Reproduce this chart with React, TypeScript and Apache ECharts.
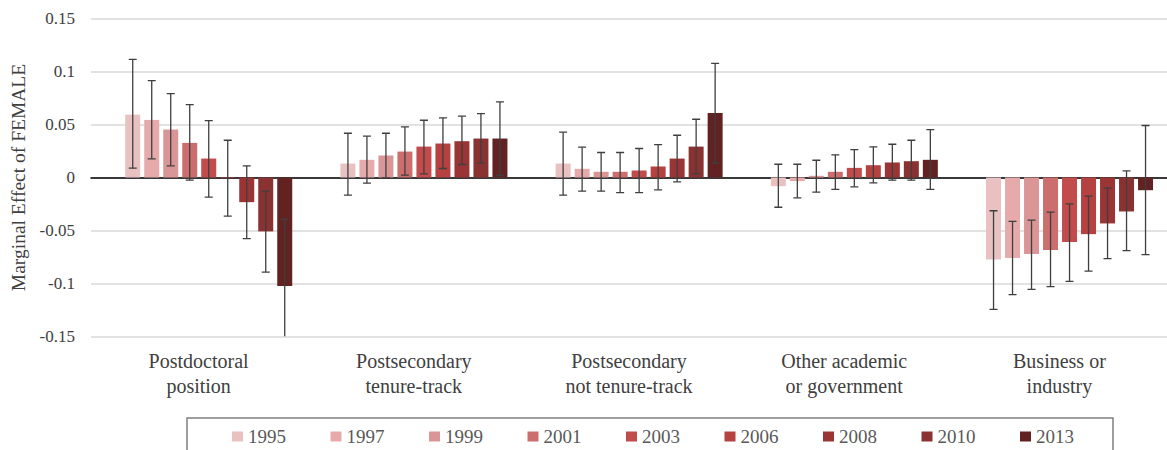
import React, { useEffect, useRef } from "react";
import * as echarts from "echarts";

const categories = [
  "Postdoctoral\nposition",
  "Postsecondary\ntenure-track",
  "Postsecondary\nnot tenure-track",
  "Other academic\nor government",
  "Business or\nindustry",
];

const years = ["1995", "1997", "1999", "2001", "2003", "2006", "2008", "2010", "2013"];

const colors = ["#e9c1c1", "#e6aaaa", "#da9696", "#cd6e6e", "#c24b4b", "#b54141", "#9b3434", "#8a3232", "#632222"];

// rows: years, columns: categories
const barValues = [
  [0.0594, 0.0132, 0.0132, -0.0082, -0.0774],
  [0.0544, 0.0167, 0.0082, -0.0034, -0.0761],
  [0.0453, 0.0208, 0.0054, 0.0016, -0.0723],
  [0.0327, 0.0245, 0.0054, 0.0054, -0.0686],
  [0.0179, 0.0292, 0.0066, 0.0091, -0.061],
  [-0.0006, 0.0321, 0.0104, 0.0116, -0.0535],
  [-0.0233, 0.0343, 0.0179, 0.0142, -0.0434],
  [-0.0509, 0.0368, 0.0292, 0.0154, -0.0321],
  [-0.1025, 0.0368, 0.061, 0.0167, -0.012],
];

const ciHigh = [
  [0.1116, 0.0418, 0.0428, 0.0125, -0.0314],
  [0.0915, 0.039, 0.0286, 0.0125, -0.0415],
  [0.0792, 0.0418, 0.0236, 0.0163, -0.0403],
  [0.0689, 0.0478, 0.0236, 0.0214, -0.0327],
  [0.0538, 0.0541, 0.0274, 0.0264, -0.025],
  [0.0352, 0.0563, 0.0311, 0.029, -0.0176],
  [0.011, 0.0579, 0.0399, 0.0314, -0.01],
  [-0.0129, 0.0604, 0.055, 0.0352, 0.0063],
  [-0.0396, 0.0714, 0.1078, 0.0453, 0.0491],
];

const ciLow = [
  [0.0088, -0.0167, -0.0167, -0.0281, -0.1245],
  [0.0176, -0.0054, -0.0129, -0.0192, -0.1107],
  [0.011, -0.0003, -0.0129, -0.0139, -0.1057],
  [-0.0025, 0.0022, -0.0142, -0.0113, -0.1031],
  [-0.0186, 0.0035, -0.0142, -0.0088, -0.0981],
  [-0.0365, 0.0085, -0.0116, -0.005, -0.0884],
  [-0.0578, 0.0123, -0.0041, -0.0025, -0.0767],
  [-0.0893, 0.0135, 0.0035, -0.0025, -0.0691],
  [-0.165, 0.0019, 0.0135, -0.0113, -0.0729],
];

const yTicks = { min: -0.15, max: 0.15, interval: 0.05 };

const FONT = "'Liberation Serif', serif";
const BAR_W = 15;
const SPACER_W = 16;
const GAP_PCT = 0.2667;

function barCenterOffset(i: number): number {
  // replicates ECharts bar layout: spacer + 9 bars
  const widths = [SPACER_W, ...years.map(() => BAR_W)];
  let sum = 0;
  widths.forEach((w) => (sum += w * (1 + GAP_PCT)));
  sum -= BAR_W * GAP_PCT;
  let off = -sum / 2;
  for (let k = 0; k < i + 1; k++) off += widths[k] * (1 + GAP_PCT);
  return off + BAR_W / 2;
}

export default function App() {
  const ref = useRef<HTMLDivElement>(null);
  useEffect(() => {
    if (!ref.current) return;
    const chart = echarts.init(ref.current, undefined, { renderer: "svg" });

    const errData: number[][] = [];
    years.forEach((_, yi) => {
      categories.forEach((_, ci) => {
        errData.push([ci, yi, ciLow[yi][ci], ciHigh[yi][ci]]);
      });
    });

    const barSeries: any[] = years.map((y, yi) => ({
      name: y,
      type: "bar",
      barWidth: BAR_W,
      barGap: (GAP_PCT * 100).toFixed(2) + "%",
      itemStyle: { color: colors[yi] },
      data: barValues[yi],
      z: 2,
    }));

    chart.setOption({
      animation: false,
      textStyle: { fontFamily: FONT },
      grid: { left: 91, right: -14, top: 18.7, bottom: 113.7 },
      legend: {
        data: years,
        left: 232,
        top: 427,
        padding: 0,
        itemWidth: 11,
        itemHeight: 10,
        itemGap: 44.5,
        icon: "rect",
        textStyle: { fontFamily: FONT, fontSize: 19, color: "#595959" },
      },
      graphic: [
        {
          type: "rect",
          shape: { x: 187, y: 418, width: 926, height: 60 },
          style: { fill: "none", stroke: "#7f7f7f", lineWidth: 1.5 },
          silent: true,
        },
      ],
      xAxis: {
        type: "category",
        data: categories,
        axisLine: { onZero: true, lineStyle: { color: "#000", width: 1.5 } },
        axisTick: { show: false },
        axisLabel: {
          interval: 0,
          fontFamily: FONT,
          fontSize: 20,
          color: "#404040",
          lineHeight: 25,
          margin: 12,
        },
      },
      yAxis: {
        type: "value",
        min: yTicks.min,
        max: yTicks.max,
        interval: yTicks.interval,
        name: "Marginal Effect of FEMALE",
        nameLocation: "middle",
        nameGap: 62,
        nameTextStyle: { fontFamily: FONT, fontSize: 19.5, color: "#404040" },
        axisLine: { show: false },
        axisTick: { show: false },
        splitLine: { lineStyle: { color: "#d9d9d9", width: 1.5 } },
        axisLabel: {
          fontFamily: FONT,
          fontSize: 17,
          color: "#404040",
          margin: 16,
          formatter: (v: number) => {
            const r = Math.round(v * 100) / 100;
            return r === 0 ? "0" : String(r);
          },
        },
      },
      series: [
        {
          name: "spacer",
          type: "bar",
          barWidth: SPACER_W,
          barGap: (GAP_PCT * 100).toFixed(2) + "%",
          data: [],
          silent: true,
        },
        ...barSeries,
        {
          name: "ci",
          type: "custom",
          clip: true,
          z: 5,
          data: errData,
          encode: { x: 0, y: [2, 3] },
          renderItem: (params: any, api: any) => {
            const ci = api.value(0);
            const yi = api.value(1);
            const pLow = api.coord([ci, api.value(2)]);
            const pHigh = api.coord([ci, api.value(3)]);
            const x = pLow[0] + barCenterOffset(yi);
            const style = { stroke: "#3f3f3f", lineWidth: 1.3 };
            const cap = 4;
            return {
              type: "group",
              children: [
                { type: "line", shape: { x1: x, y1: pLow[1], x2: x, y2: pHigh[1] }, style },
                { type: "line", shape: { x1: x - cap, y1: pLow[1], x2: x + cap, y2: pLow[1] }, style },
                { type: "line", shape: { x1: x - cap, y1: pHigh[1], x2: x + cap, y2: pHigh[1] }, style },
              ],
            };
          },
        },
      ],
    });
    return () => chart.dispose();
  }, []);
  return (
    <div
      ref={ref}
      style={{ position: "fixed", left: 0, top: 0, width: 1167, height: 450, background: "#fff" }}
    />
  );
}
